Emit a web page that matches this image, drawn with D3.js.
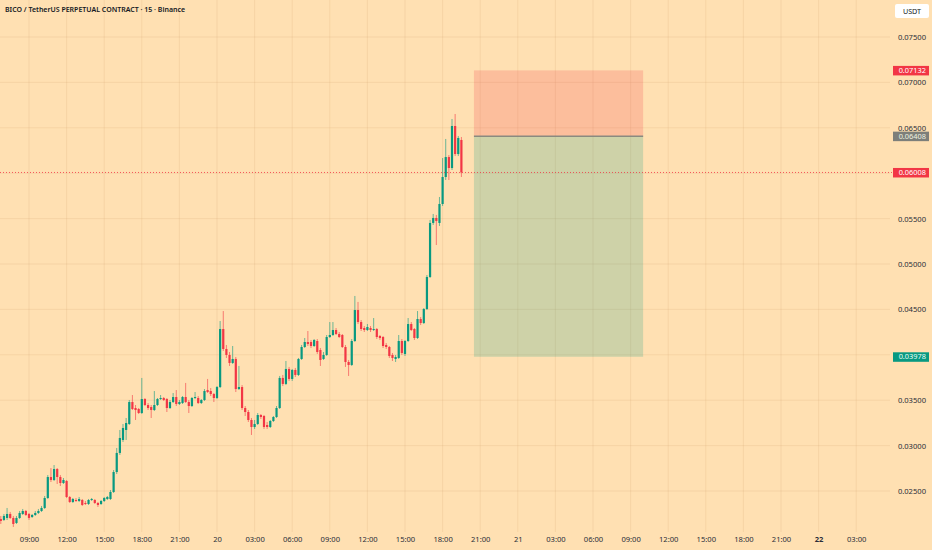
<!DOCTYPE html>
<html>
<head>
<meta charset="utf-8">
<script src="https://cdn.jsdelivr.net/npm/d3@7"></script>
<style>
  html, body { margin: 0; padding: 0; background: #FFE0B2; }
  svg { display: block; font-family: "Noto Sans", sans-serif; }
</style>
</head>
<body>
<div id="chart"></div>
<script>
// BICO/USDT perpetual, 15 minute candles
const candleStart = new Date(2024, 2, 19, 6, 45);
const candleMinutes = 15;

const opens = [
  0.02192, 0.02181, 0.02203, 0.02247, 0.02203, 0.02148, 0.02203, 0.02247, 0.02280, 0.02247,
  0.02214, 0.02236, 0.02258, 0.02280, 0.02313, 0.02423, 0.02654, 0.02621, 0.02742, 0.02654,
  0.02588, 0.02610, 0.02434, 0.02379, 0.02401, 0.02390, 0.02401, 0.02368, 0.02357, 0.02401,
  0.02401, 0.02368, 0.02357, 0.02390, 0.02412, 0.02412, 0.02489, 0.02709, 0.02919, 0.03062,
  0.03172, 0.03238, 0.03480, 0.03414, 0.03403, 0.03359, 0.03513, 0.03447, 0.03425, 0.03392,
  0.03447, 0.03513, 0.03524, 0.03513, 0.03414, 0.03480, 0.03535, 0.03458, 0.03469, 0.03535,
  0.03480, 0.03436, 0.03524, 0.03524, 0.03469, 0.03502, 0.03612, 0.03601, 0.03568, 0.03524,
  0.03645, 0.04284, 0.04064, 0.03998, 0.03910, 0.03954, 0.03623, 0.03645, 0.03414, 0.03370,
  0.03282, 0.03205, 0.03238, 0.03337, 0.03326, 0.03227, 0.03205, 0.03271, 0.03315, 0.03414,
  0.03745, 0.03679, 0.03844, 0.03734, 0.03833, 0.03778, 0.03954, 0.04086, 0.04141, 0.04141,
  0.04097, 0.04152, 0.04053, 0.03954, 0.03998, 0.04196, 0.04218, 0.04273, 0.04229, 0.04218,
  0.04086, 0.03921, 0.03888, 0.04152, 0.04493, 0.04361, 0.04295, 0.04273, 0.04295, 0.04273,
  0.04284, 0.04207, 0.04196, 0.04108, 0.04086, 0.03998, 0.03954, 0.03965, 0.04152, 0.04009,
  0.04152, 0.04339, 0.04284, 0.04185, 0.04394, 0.04350, 0.04504, 0.04857, 0.05452, 0.05507,
  0.05452, 0.05661, 0.05958, 0.06178, 0.06057, 0.06520, 0.06211, 0.06366
];
const highs = [
  0.02225, 0.02247, 0.02313, 0.02269, 0.02225, 0.02225, 0.02280, 0.02302, 0.02291, 0.02258,
  0.02247, 0.02280, 0.02302, 0.02335, 0.02445, 0.02676, 0.02753, 0.02786, 0.02753, 0.02676,
  0.02643, 0.02621, 0.02445, 0.02423, 0.02423, 0.02434, 0.02412, 0.02390, 0.02412, 0.02423,
  0.02412, 0.02379, 0.02401, 0.02434, 0.02445, 0.02511, 0.02731, 0.02974, 0.03172, 0.03238,
  0.03304, 0.03502, 0.03557, 0.03447, 0.03414, 0.03745, 0.03524, 0.03469, 0.03447, 0.03601,
  0.03524, 0.03557, 0.03535, 0.03524, 0.03502, 0.03579, 0.03612, 0.03502, 0.03546, 0.03690,
  0.03502, 0.03535, 0.03590, 0.03546, 0.03513, 0.03623, 0.03734, 0.03634, 0.03579, 0.03656,
  0.04372, 0.04482, 0.04108, 0.04031, 0.04097, 0.03976, 0.03877, 0.03667, 0.03436, 0.03392,
  0.03304, 0.03282, 0.03359, 0.03348, 0.03337, 0.03260, 0.03282, 0.03326, 0.03436, 0.03767,
  0.03778, 0.03932, 0.03866, 0.03844, 0.03855, 0.03965, 0.04108, 0.04185, 0.04262, 0.04163,
  0.04174, 0.04174, 0.04075, 0.04031, 0.04218, 0.04361, 0.04361, 0.04295, 0.04251, 0.04229,
  0.04108, 0.03943, 0.04174, 0.04648, 0.04582, 0.04383, 0.04317, 0.04339, 0.04317, 0.04405,
  0.04295, 0.04218, 0.04207, 0.04130, 0.04097, 0.04020, 0.03998, 0.04218, 0.04174, 0.04163,
  0.04405, 0.04361, 0.04295, 0.04482, 0.04416, 0.04515, 0.04879, 0.05485, 0.05551, 0.05540,
  0.05738, 0.06167, 0.06377, 0.06200, 0.06597, 0.06652, 0.06410, 0.06399
];
const lows = [
  0.02137, 0.02170, 0.02181, 0.02192, 0.02104, 0.02137, 0.02192, 0.02236, 0.02225, 0.02181,
  0.02203, 0.02225, 0.02247, 0.02269, 0.02302, 0.02412, 0.02599, 0.02610, 0.02577, 0.02555,
  0.02577, 0.02423, 0.02368, 0.02368, 0.02379, 0.02379, 0.02335, 0.02346, 0.02346, 0.02390,
  0.02357, 0.02324, 0.02346, 0.02379, 0.02401, 0.02401, 0.02478, 0.02687, 0.02897, 0.03040,
  0.03062, 0.03227, 0.03392, 0.03282, 0.03348, 0.03348, 0.03436, 0.03392, 0.03304, 0.03381,
  0.03436, 0.03502, 0.03491, 0.03370, 0.03403, 0.03469, 0.03436, 0.03447, 0.03458, 0.03469,
  0.03359, 0.03425, 0.03513, 0.03458, 0.03458, 0.03491, 0.03579, 0.03546, 0.03480, 0.03513,
  0.03634, 0.04042, 0.03965, 0.03877, 0.03899, 0.03590, 0.03612, 0.03392, 0.03326, 0.03260,
  0.03117, 0.03183, 0.03227, 0.03293, 0.03183, 0.03183, 0.03194, 0.03260, 0.03304, 0.03403,
  0.03656, 0.03667, 0.03712, 0.03712, 0.03756, 0.03767, 0.03943, 0.04075, 0.04097, 0.04075,
  0.04086, 0.04009, 0.03877, 0.03943, 0.03987, 0.04185, 0.04207, 0.04218, 0.04185, 0.04075,
  0.03866, 0.03767, 0.03877, 0.04141, 0.04339, 0.04262, 0.04251, 0.04262, 0.04251, 0.04262,
  0.04174, 0.04163, 0.04075, 0.04064, 0.03965, 0.03932, 0.03921, 0.03954, 0.03998, 0.03987,
  0.04141, 0.04262, 0.04163, 0.04174, 0.04328, 0.04339, 0.04493, 0.04846, 0.05430, 0.05209,
  0.05419, 0.05639, 0.05925, 0.05925, 0.06035, 0.06189, 0.06189, 0.05958
];
const closes = [
  0.02170, 0.02225, 0.02247, 0.02203, 0.02137, 0.02203, 0.02258, 0.02280, 0.02236, 0.02203,
  0.02236, 0.02258, 0.02280, 0.02313, 0.02423, 0.02654, 0.02621, 0.02742, 0.02654, 0.02588,
  0.02621, 0.02434, 0.02379, 0.02412, 0.02390, 0.02412, 0.02346, 0.02357, 0.02401, 0.02412,
  0.02368, 0.02346, 0.02390, 0.02423, 0.02434, 0.02489, 0.02709, 0.02919, 0.03084, 0.03194,
  0.03249, 0.03480, 0.03403, 0.03392, 0.03359, 0.03513, 0.03447, 0.03414, 0.03392, 0.03447,
  0.03513, 0.03524, 0.03502, 0.03414, 0.03480, 0.03535, 0.03458, 0.03480, 0.03535, 0.03480,
  0.03436, 0.03524, 0.03535, 0.03469, 0.03502, 0.03601, 0.03590, 0.03568, 0.03524, 0.03645,
  0.04284, 0.04064, 0.03998, 0.03910, 0.03954, 0.03623, 0.03645, 0.03414, 0.03370, 0.03282,
  0.03205, 0.03238, 0.03337, 0.03315, 0.03205, 0.03205, 0.03271, 0.03315, 0.03414, 0.03745,
  0.03679, 0.03844, 0.03734, 0.03833, 0.03778, 0.03954, 0.04086, 0.04141, 0.04119, 0.04097,
  0.04163, 0.04031, 0.03943, 0.03998, 0.04196, 0.04218, 0.04273, 0.04229, 0.04196, 0.04086,
  0.03921, 0.03888, 0.04152, 0.04493, 0.04361, 0.04284, 0.04273, 0.04306, 0.04273, 0.04284,
  0.04196, 0.04185, 0.04097, 0.04086, 0.03987, 0.03965, 0.03976, 0.04152, 0.04020, 0.04152,
  0.04339, 0.04273, 0.04185, 0.04394, 0.04350, 0.04504, 0.04857, 0.05452, 0.05507, 0.05474,
  0.05661, 0.05958, 0.06178, 0.06057, 0.06520, 0.06211, 0.06388, 0.06008
];

// price axis ticks
const priceTicks = [0.025, 0.030, 0.035, 0.040, 0.045, 0.050, 0.055, 0.060, 0.065, 0.070, 0.075];
const shownPriceTicks = [0.025, 0.030, 0.035, 0.045, 0.050, 0.055, 0.065, 0.070, 0.075];

// long position tool
const positionTimes = [new Date(2024, 2, 20, 20, 30), new Date(2024, 2, 21, 10, 0)];
const positionPrices = { stop: 0.07132, entry: 0.06408, target: 0.03978 };
const lastPrice = 0.06008;

const title = "BICO / TetherUS PERPETUAL CONTRACT · 15 · Binance";
const currency = "USDT";

const upColor = "#089981";
const downColor = "#F23645";
const gridColor = "rgba(214, 170, 120, 0.22)";
const textColor = "#2a2e39";

const w = 932;
const h = 550;
const plotRight = 890;
const plotBottom = 532;

const candles = opens.map((o, i) => ({
  time: new Date(candleStart.getTime() + i * candleMinutes * 60000),
  open: o, high: highs[i], low: lows[i], close: closes[i]
}));

const svg = d3.select("#chart")
  .append("svg")
  .attr("width", w)
  .attr("height", h);

svg.append("rect")
  .attr("width", w)
  .attr("height", h)
  .attr("fill", "#FFE0B2");

const x = d3.scaleTime()
  .domain([new Date(2024, 2, 19, 9, 0), new Date(2024, 2, 22, 3, 0)])
  .range([29, 856.2]);

const y = d3.scaleLinear()
  .domain([0.025, 0.075])
  .range([491, 37]);

const timeTicks = d3.timeHour.every(3).range(new Date(2024, 2, 19, 9, 0), new Date(2024, 2, 22, 3, 1));

// grid
svg.append("g")
  .selectAll("line")
  .data(timeTicks)
  .enter()
  .append("line")
  .attr("x1", d => x(d)).attr("x2", d => x(d))
  .attr("y1", 0).attr("y2", plotBottom)
  .attr("stroke", gridColor)
  .attr("stroke-width", 1);

svg.append("g")
  .selectAll("line")
  .data(priceTicks)
  .enter()
  .append("line")
  .attr("x1", 0).attr("x2", plotRight)
  .attr("y1", d => y(d)).attr("y2", d => y(d))
  .attr("stroke", gridColor)
  .attr("stroke-width", 1);

// position tool zones
const px0 = x(positionTimes[0]);
const px1 = x(positionTimes[1]);

svg.append("rect")
  .attr("x", px0)
  .attr("y", y(positionPrices.stop))
  .attr("width", px1 - px0)
  .attr("height", y(positionPrices.entry) - y(positionPrices.stop))
  .attr("fill", downColor)
  .attr("fill-opacity", 0.2);

svg.append("rect")
  .attr("x", px0)
  .attr("y", y(positionPrices.entry))
  .attr("width", px1 - px0)
  .attr("height", y(positionPrices.target) - y(positionPrices.entry))
  .attr("fill", upColor)
  .attr("fill-opacity", 0.2);

svg.append("line")
  .attr("x1", px0).attr("x2", px1)
  .attr("y1", y(positionPrices.entry)).attr("y2", y(positionPrices.entry))
  .attr("stroke", "#8a8a80")
  .attr("stroke-width", 1.5);

// candles
const candleG = svg.append("g");

candleG.selectAll("line")
  .data(candles)
  .enter()
  .append("line")
  .attr("x1", d => x(d.time)).attr("x2", d => x(d.time))
  .attr("y1", d => y(d.high)).attr("y2", d => y(d.low))
  .attr("stroke", d => d.close >= d.open ? upColor : downColor)
  .attr("stroke-opacity", 0.6)
  .attr("stroke-width", 1);

candleG.selectAll("rect")
  .data(candles)
  .enter()
  .append("rect")
  .attr("x", d => x(d.time) - 1.1)
  .attr("width", 2.2)
  .attr("y", d => y(Math.max(d.open, d.close)))
  .attr("height", d => Math.max(1, Math.abs(y(d.open) - y(d.close))))
  .attr("fill", d => d.close >= d.open ? upColor : downColor);

// last price dotted line
svg.append("line")
  .attr("x1", 0).attr("x2", 893)
  .attr("y1", y(lastPrice)).attr("y2", y(lastPrice))
  .attr("stroke", downColor)
  .attr("stroke-opacity", 0.8)
  .attr("stroke-width", 1)
  .attr("stroke-dasharray", "1,2");

// price axis
const yAxis = d3.axisRight(y)
  .tickValues(shownPriceTicks)
  .tickSize(0)
  .tickFormat(d => d.toFixed(5));

const yAxisG = svg.append("g")
  .attr("transform", "translate(926,0)")
  .call(yAxis);
yAxisG.select(".domain").remove();
yAxisG.selectAll("text")
  .attr("x", 0)
  .attr("text-anchor", "end")
  .attr("fill", textColor)
  .style("font-size", "7.6px")
  .style("font-family", "Noto Sans, sans-serif");

// price labels
const priceLabels = [
  { value: positionPrices.stop, color: downColor, text: "#ffffff" },
  { value: positionPrices.entry, color: "#7d7f7a", text: "#eef2e0" },
  { value: lastPrice, color: downColor, text: "#ffffff" },
  { value: positionPrices.target, color: upColor, text: "#e9fff6" }
];

const labelG = svg.append("g")
  .selectAll("g")
  .data(priceLabels)
  .enter()
  .append("g")
  .attr("transform", d => "translate(0," + y(d.value) + ")");

labelG.append("rect")
  .attr("x", 893)
  .attr("y", -4.5)
  .attr("width", 36)
  .attr("height", 9.5)
  .attr("fill", d => d.color);

labelG.append("text")
  .attr("x", 926)
  .attr("dy", "0.35em")
  .attr("text-anchor", "end")
  .attr("fill", d => d.text)
  .style("font-size", "7.4px")
  .text(d => d.value.toFixed(5));

// time axis
const xAxis = d3.axisBottom(x)
  .tickValues(timeTicks)
  .tickSize(0)
  .tickFormat(d => d.getHours() === 0 ? String(d.getDate()) : d3.timeFormat("%H:%M")(d));

const xAxisG = svg.append("g")
  .attr("transform", "translate(0,537)")
  .call(xAxis);
xAxisG.select(".domain").remove();
xAxisG.selectAll("text")
  .attr("y", 0)
  .attr("dy", "0.71em")
  .attr("fill", textColor)
  .style("font-size", "7.6px")
  .style("font-family", "Noto Sans, sans-serif")
  .style("font-weight", d => (d.getHours() === 0 && d.getDate() === 22) ? "bold" : "normal");

// title and currency badge
svg.append("text")
  .attr("x", 5)
  .attr("y", 10)
  .attr("dy", "0.35em")
  .attr("fill", "#131722")
  .style("font-size", "7px")
  .style("font-weight", "600")
  .text(title);

svg.append("rect")
  .attr("x", 895)
  .attr("y", 4)
  .attr("width", 34)
  .attr("height", 14)
  .attr("rx", 2)
  .attr("fill", "#ffffff");

svg.append("text")
  .attr("x", 912)
  .attr("y", 11)
  .attr("dy", "0.35em")
  .attr("text-anchor", "middle")
  .attr("fill", "#131722")
  .style("font-size", "7.2px")
  .text(currency);
</script>
</body>
</html>
